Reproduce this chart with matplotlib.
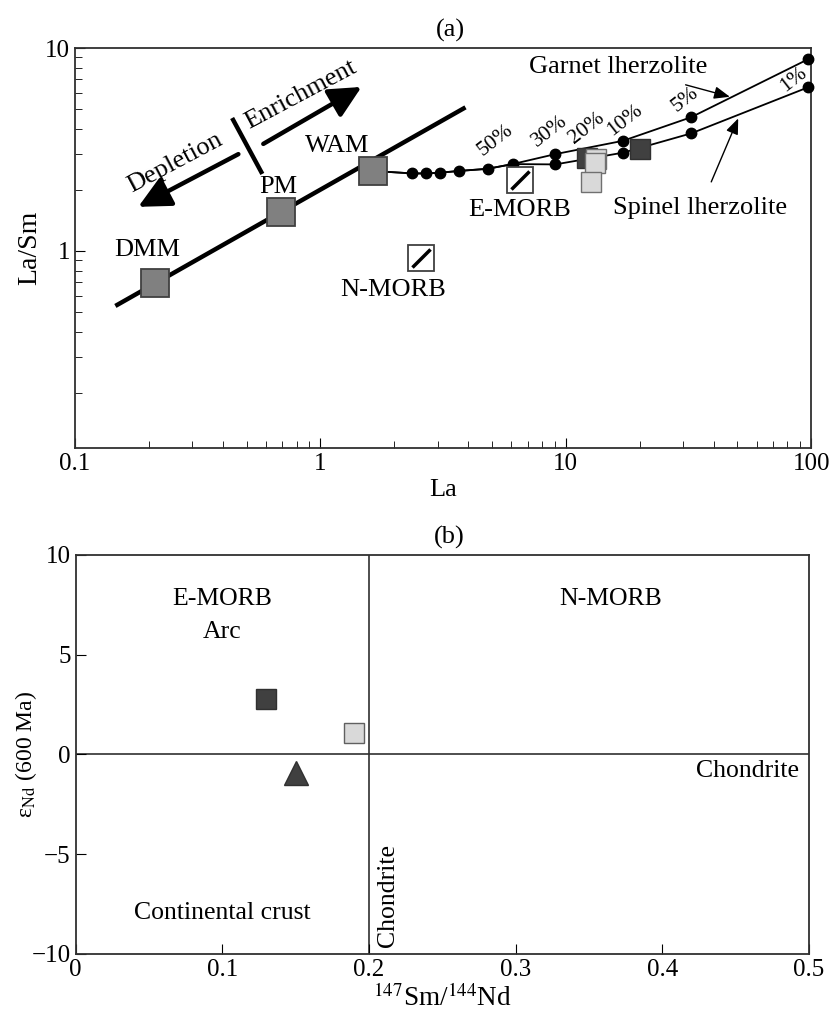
import numpy as np
import matplotlib.pyplot as plt
from matplotlib.path import Path

plt.rcParams['font.family'] = ['Liberation Serif', 'DejaVu Serif']
plt.rcParams['mathtext.fontset'] = 'stix'
plt.rcParams['font.size'] = 19

# ---- panel (a) data ----
src_names = ['DMM', 'PM', 'WAM']
src_la = [0.212, 0.69, 1.63]
src_lasm = [0.695, 1.56, 2.48]

trend_la = [0.146, 3.9]
trend_lasm = [0.536, 5.1]

common_la = [2.37, 2.70, 3.07, 3.68, 4.80, 6.07]
common_lasm = [2.41, 2.41, 2.43, 2.48, 2.54, 2.68]
garnet_la = [9.06, 17.1, 32.4, 97.0]
garnet_lasm = [3.0, 3.49, 4.56, 8.8]
spinel_la = [9.06, 17.1, 32.5, 97.0]
spinel_lasm = [2.67, 3.05, 3.8, 6.4]

pct_labels = ['50%', '30%', '20%', '10%', '5%', '1%']
pct_la = [5.15, 8.63, 12.2, 17.4, 30.6, 84.5]
pct_lasm = [3.52, 3.87, 4.02, 4.42, 5.54, 6.96]

morb_names = ['E-MORB', 'N-MORB']
morb_la = [6.53, 2.57]
morb_lasm = [2.24, 0.92]

dark_la = [12.2, 20.1]
dark_lasm = [2.86, 3.17]
light_la = [13.3, 13.1, 12.7]
light_lasm = [2.83, 2.70, 2.19]

# ---- panel (b) data ----
b_dark_smnd, b_dark_eps = [0.13], [2.77]
b_light_smnd, b_light_eps = [0.19], [1.06]
b_tri_smnd, b_tri_eps = [0.15], [-0.95]
chur_smnd = 0.2
chur_eps = 0.0

fig = plt.figure(figsize=(8.3, 10.17), dpi=100)
ax1 = fig.add_axes([0.0904, 0.5595, 0.887, 0.3933])
ax2 = fig.add_axes([0.0912, 0.0622, 0.8835, 0.3923])

# ================= (a) =================
ax1.set_xscale('log')
ax1.set_yscale('log')
ax1.set_xlim(0.1, 100)
ax1.set_ylim(0.107, 10)

ax1.plot(trend_la, trend_lasm, color='black', lw=3.2, solid_capstyle='butt', zorder=2)

g_line_x = [src_la[2]] + common_la + garnet_la
g_line_y = [src_lasm[2]] + common_lasm + garnet_lasm
s_line_x = [src_la[2]] + common_la + spinel_la
s_line_y = [src_lasm[2]] + common_lasm + spinel_lasm
ax1.plot(g_line_x, g_line_y, color='black', lw=1.3, zorder=2)
ax1.plot(s_line_x, s_line_y, color='black', lw=1.3, zorder=2)
ax1.plot(common_la + garnet_la + spinel_la, common_lasm + garnet_lasm + spinel_lasm,
         'o', color='black', ms=7.5, zorder=3, clip_on=False)

for lab, x, y in zip(pct_labels, pct_la, pct_lasm):
    ax1.text(x, y, lab, rotation=38, ha='center', va='center', fontsize=15.5)

ax1.plot(src_la, src_lasm, 's', ms=20, mfc='#808080', mec='#404040', mew=1.3, zorder=4)
ax1.text(src_la[0] * 0.93, src_lasm[0] * 1.45, src_names[0], ha='center', va='center')
ax1.text(src_la[1] * 0.98, src_lasm[1] * 1.33, src_names[1], ha='center', va='center')
ax1.text(src_la[2] * 0.72, src_lasm[2] * 1.33, src_names[2], ha='center', va='center')

# depletion / enrichment
big_head = '-|>,head_length=0.65,head_width=0.32'
ax1.annotate('', xy=(0.181, 1.65), xytext=(0.463, 3.0),
             arrowprops=dict(arrowstyle=big_head, lw=3.2, color='black', mutation_scale=30,
                             shrinkA=0, shrinkB=0))
ax1.annotate('', xy=(1.47, 6.43), xytext=(0.585, 3.37),
             arrowprops=dict(arrowstyle=big_head, lw=3.2, color='black', mutation_scale=30,
                             shrinkA=0, shrinkB=0))
ax1.plot([0.441, 0.574], [4.42, 2.45], color='black', lw=3.2)
ax1.text(0.255, 2.72, 'Depletion', rotation=28, ha='center', va='center', fontsize=19)
ax1.text(0.83, 5.9, 'Enrichment', rotation=28, ha='center', va='center', fontsize=19)

# MORB boxes
diag = Path([(-1, -1), (1, 1)], [Path.MOVETO, Path.LINETO])
ax1.plot(morb_la, morb_lasm, 's', ms=19, mfc='white', mec='#404040', mew=1.3, zorder=4)
ax1.plot(morb_la, morb_lasm, marker=diag, ls='none', ms=13, mec='black', mew=2.5, zorder=5)
ax1.text(6.51, 1.60, morb_names[0], ha='center', va='center')
ax1.text(1.98, 0.643, morb_names[1], ha='center', va='center')

# samples
ax1.plot(dark_la, dark_lasm, 's', ms=14, mfc='#404040', mec='#303030', mew=1, zorder=5)
for x, y in zip(light_la, light_lasm):
    ax1.plot(x, y, 's', ms=14, mfc='#d9d9d9', mec='#707070', mew=1, zorder=6)

small_head = '-|>,head_length=0.5,head_width=0.2'
ax1.annotate('Garnet lherzolite', xy=(46.6, 5.75), xytext=(16.4, 8.09),
             ha='center', va='center',
             arrowprops=dict(arrowstyle=small_head, lw=1, color='black', shrinkA=12, shrinkB=0))
ax1.annotate('Spinel lherzolite', xy=(50.4, 4.5), xytext=(35.2, 1.62),
             ha='center', va='center',
             arrowprops=dict(arrowstyle=small_head, lw=1, color='black', shrinkA=10, shrinkB=0))

ax1.set_xticks([0.1, 1, 10, 100], ['0.1', '1', '10', '100'])
ax1.set_yticks([1, 10], ['1', '10'])
ax1.tick_params(which='both', direction='in', top=False, right=False)
ax1.tick_params(which='major', length=7, labelsize=18)
ax1.tick_params(which='minor', length=5, labelleft=False, labelbottom=False)
ax1.set_xlabel('La', fontsize=19, labelpad=3)
ax1.set_ylabel('La/Sm', fontsize=20, labelpad=2)
ax1.set_title('(a)', fontsize=19, pad=8, x=0.51)

# ================= (b) =================
ax2.set_xlim(0, 0.5)
ax2.set_ylim(-10, 10)
ax2.axhline(chur_eps, color='#303030', lw=1.2, zorder=1)
ax2.axvline(chur_smnd, color='#303030', lw=1.2, zorder=1)

ax2.plot(b_dark_smnd, b_dark_eps, 's', ms=14, mfc='#404040', mec='#303030', mew=1)
ax2.plot(b_light_smnd, b_light_eps, 's', ms=14, mfc='#d9d9d9', mec='#606060', mew=1)
ax2.plot(b_tri_smnd, b_tri_eps, '^', ms=17, mfc='#404040', mec='#303030', mew=1)

ax2.text(0.1, 7.76, 'E-MORB', ha='center', va='center', fontsize=18.5)
ax2.text(0.1, 6.12, 'Arc', ha='center', va='center', fontsize=18.5)
ax2.text(0.365, 7.76, 'N-MORB', ha='center', va='center', fontsize=18.5)
ax2.text(0.493, -0.83, 'Chondrite', ha='right', va='center', fontsize=18.5)
ax2.text(0.213, -7.1, 'Chondrite', rotation=90, ha='center', va='center', fontsize=18.5)
ax2.text(0.1, -7.95, 'Continental crust', ha='center', va='center', fontsize=18.5)

ax2.set_xticks([0, 0.1, 0.2, 0.3, 0.4, 0.5], ['0', '0.1', '0.2', '0.3', '0.4', '0.5'])
ax2.set_yticks([-10, -5, 0, 5, 10], ['\u221210', '\u22125', '0', '5', '10'])
ax2.tick_params(direction='in', length=7, labelsize=18, top=False, right=False)
ax2.set_xlabel(r'$^{147}$Sm/$^{144}$Nd', fontsize=19.5, labelpad=3)
ax2.set_ylabel('ε$_{\\rm Nd}$ (600 Ma)', fontsize=17, labelpad=-5)
ax2.set_title('(b)', fontsize=19, pad=8, x=0.51)

for ax in (ax1, ax2):
    for s in ax.spines.values():
        s.set_linewidth(1.3)
        s.set_color('#303030')

fig.savefig('out.png', dpi=100)
